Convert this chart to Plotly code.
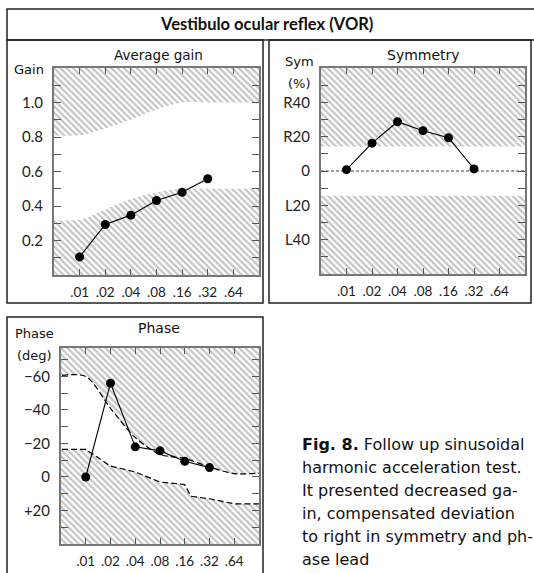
import math
import plotly.graph_objects as go

W, H = 534, 573

# ---------------- data ----------------
freqs = [0.01, 0.02, 0.04, 0.08, 0.16, 0.32]
freq_ticks = [0.01, 0.02, 0.04, 0.08, 0.16, 0.32, 0.64]
freq_labels = [".01", ".02", ".04", ".08", ".16", ".32", ".64"]

gain = [0.105, 0.293, 0.347, 0.432, 0.48, 0.558]
gain_bx = [0.004, 0.01, 0.02, 0.04, 0.08, 0.16, 0.32, 0.64, 1.5]
gain_upper = [0.81, 0.81, 0.85, 0.90, 0.96, 1.0, 1.0, 1.0, 1.0]
gain_lower = [0.32, 0.32, 0.38, 0.44, 0.48, 0.50, 0.50, 0.50, 0.50]
gain_ticks = [0.1, 0.2, 0.3, 0.4, 0.5, 0.6, 0.7, 0.8, 0.9, 1.0, 1.1]
gain_labels = ["", "0.2", "", "0.4", "", "0.6", "", "0.8", "", "1.0", ""]

sym = [0.8, 16.2, 28.7, 23.5, 19.4, 1.2]
sym_bx = [0.004, 1.5]
sym_upper = [14.2, 14.2]
sym_lower = [-14.4, -14.4]
sym_ticks = [-50, -40, -30, -20, -10, 0, 10, 20, 30, 40, 50]
sym_labels = ["", "L40", "", "L20", "", "0", "", "R20", "", "R40", ""]

phase = [0.0, -56.0, -18.0, -15.6, -9.4, -5.6]
ph_up_x = [0.004, 0.01, 0.02, 0.04, 0.08, 0.16, 0.32, 0.64, 1.5]
ph_upper = [-60, -60, -41, -23.5, -13.5, -11, -6, -2, -2.5]
ph_lo_x = [0.004, 0.01, 0.02, 0.04, 0.08, 0.16, 0.19, 0.32, 0.64, 1.5]
ph_lower = [-16.5, -16.5, -6.5, -3, 3, 4.5, 11.5, 13, 16, 16]
ph_ticks = [-70, -60, -50, -40, -30, -20, -10, 0, 10, 20, 30]
ph_labels = ["", "\u221260", "", "\u221240", "", "\u221220", "", "0", "", "+20", ""]

title_text = "Vestibulo ocular reflex (VOR)"
caption_lines = [
    "<b>Fig. 8.</b> Follow up sinusoidal",
    "harmonic acceleration test.",
    "It presented decreased ga-",
    "in, compensated deviation",
    "to right in symmetry and ph-",
    "ase lead",
]

# ---------------- helpers ----------------
TFONT = "DejaVu Sans"
NFONT = "Lato"
def px(x):
    return x / W
def py(y):
    return 1 - y / H

hatch = dict(shape="\\", fgcolor="#8a8a8a", bgcolor="white", size=4.5, solidity=0.5)

fig = go.Figure()

def add_band(xa, ya, xs_up, ys_up, xs_lo, ys_lo, ytop, ybot, line=None, shape_up="spline", shape_lo="spline"):
    ln = line or dict(width=0)
    # upper hatched region
    fig.add_trace(go.Scatter(x=[xs_up[0], xs_up[-1]], y=[ytop, ytop], mode="lines",
                             line=dict(width=0), xaxis=xa, yaxis=ya, hoverinfo="skip", showlegend=False))
    fig.add_trace(go.Scatter(x=xs_up, y=ys_up, mode="lines", fill="tonexty", fillpattern=hatch,
                             fillcolor="white", line=dict(shape=shape_up, smoothing=0.8, **ln),
                             xaxis=xa, yaxis=ya, hoverinfo="skip", showlegend=False))
    # lower hatched region
    fig.add_trace(go.Scatter(x=[xs_lo[0], xs_lo[-1]], y=[ybot, ybot], mode="lines",
                             line=dict(width=0), xaxis=xa, yaxis=ya, hoverinfo="skip", showlegend=False))
    fig.add_trace(go.Scatter(x=xs_lo, y=ys_lo, mode="lines", fill="tonexty", fillpattern=hatch,
                             fillcolor="white", line=dict(shape=shape_lo, smoothing=0.8, **ln),
                             xaxis=xa, yaxis=ya, hoverinfo="skip", showlegend=False))

def add_data(xa, ya, ys):
    fig.add_trace(go.Scatter(x=freqs, y=ys, mode="lines+markers",
                             line=dict(color="black", width=1.1),
                             marker=dict(color="black", size=9),
                             xaxis=xa, yaxis=ya, showlegend=False))

add_band("x", "y", gain_bx, gain_upper, gain_bx, gain_lower, 1.5, -0.3)
add_data("x", "y", gain)

add_band("x2", "y2", sym_bx, sym_upper, sym_bx, sym_lower, 80, -80, shape_up="linear", shape_lo="linear")
add_data("x2", "y2", sym)

add_band("x3", "y3", ph_up_x, ph_upper, ph_lo_x, ph_lower, -100, 60,
         line=dict(color="black", width=1.2, dash="6px,3px"), shape_lo="linear")
add_data("x3", "y3", phase)

# ---------------- axes ----------------
xr = [math.log10(0.005), math.log10(1.28)]
def xaxis(domain):
    return dict(domain=domain, type="log", range=xr, tickvals=freq_ticks, ticktext=freq_labels,
                ticks="inside", ticklen=6, tickwidth=1.2, tickcolor="#555",
                showline=True, linecolor="#777", linewidth=2, mirror="ticks",
                showgrid=False, zeroline=False, ticklabelstandoff=4,
                tickfont=dict(family=NFONT, size=13.5, color="#222"))
def yaxis(domain, rng, tv, tt, anchor):
    return dict(domain=domain, range=rng, tickvals=tv, ticktext=tt, anchor=anchor,
                ticks="inside", ticklen=7, tickwidth=1.2, tickcolor="#555",
                showline=True, linecolor="#777", linewidth=2, mirror="ticks",
                showgrid=False, zeroline=False, ticklabelstandoff=6,
                tickfont=dict(family=NFONT, size=15, color="#222"))

fig.update_layout(
    width=W, height=H, margin=dict(l=0, r=0, t=0, b=0),
    paper_bgcolor="white", plot_bgcolor="white",
    xaxis=dict(xaxis([px(54), px(259)]), anchor="y"),
    yaxis=yaxis([py(275), py(68)], [0, 1.2], gain_ticks, gain_labels, "x"),
    xaxis2=dict(xaxis([px(321), px(525)]), anchor="y2"),
    yaxis2=yaxis([py(274), py(68)], [-60, 60], sym_ticks, sym_labels, "x2"),
    xaxis3=dict(xaxis([px(61), px(259)]), anchor="y3"),
    yaxis3=yaxis([py(544), py(348)], [40, -77], ph_ticks, ph_labels, "x3"),
)

# ---------------- frames ----------------
frame = dict(color="#222", width=1.5)
shapes = [
    dict(type="rect", xref="paper", yref="paper", x0=px(7), x1=px(545), y0=py(9), y1=py(40), line=frame),
    dict(type="rect", xref="paper", yref="paper", x0=px(7), x1=px(263), y0=py(40), y1=py(303), line=frame),
    dict(type="rect", xref="paper", yref="paper", x0=px(269), x1=px(531), y0=py(40), y1=py(303), line=frame),
    dict(type="rect", xref="paper", yref="paper", x0=px(7), x1=px(263), y0=py(317), y1=py(590), line=frame),
    dict(type="line", xref="x2 domain", yref="y2", x0=0, x1=1, y0=0, y1=0,
         line=dict(color="#444", width=1, dash="3px,2px"), layer="below"),
]
fig.update_layout(shapes=shapes)

# ---------------- text ----------------
ann = []
def text(x, y, s, size=13, family=TFONT, xanchor="center"):
    ann.append(dict(x=px(x), y=py(y), xref="paper", yref="paper", text=s, showarrow=False,
                    xanchor=xanchor, yanchor="middle",
                    font=dict(family=family, size=size, color="#111")))

text(266, 24, "<b>" + title_text + "</b>", size=16.5, family=NFONT)
text(158, 55, "Average gain", 13.5)
text(423, 55, "Symmetry", 14)
text(159, 328, "Phase", 14)
text(29, 70, "Gain", 13)
text(299, 62, "Sym", 13)
text(299, 84, "(%)", 13)
text(34, 333, "Phase", 13)
text(34, 355, "(deg)", 13)
for i, line in enumerate(caption_lines):
    text(300, 444 + i * 23.0, line, size=16, xanchor="left")
fig.update_layout(annotations=ann)

fig.write_html("out.html")
